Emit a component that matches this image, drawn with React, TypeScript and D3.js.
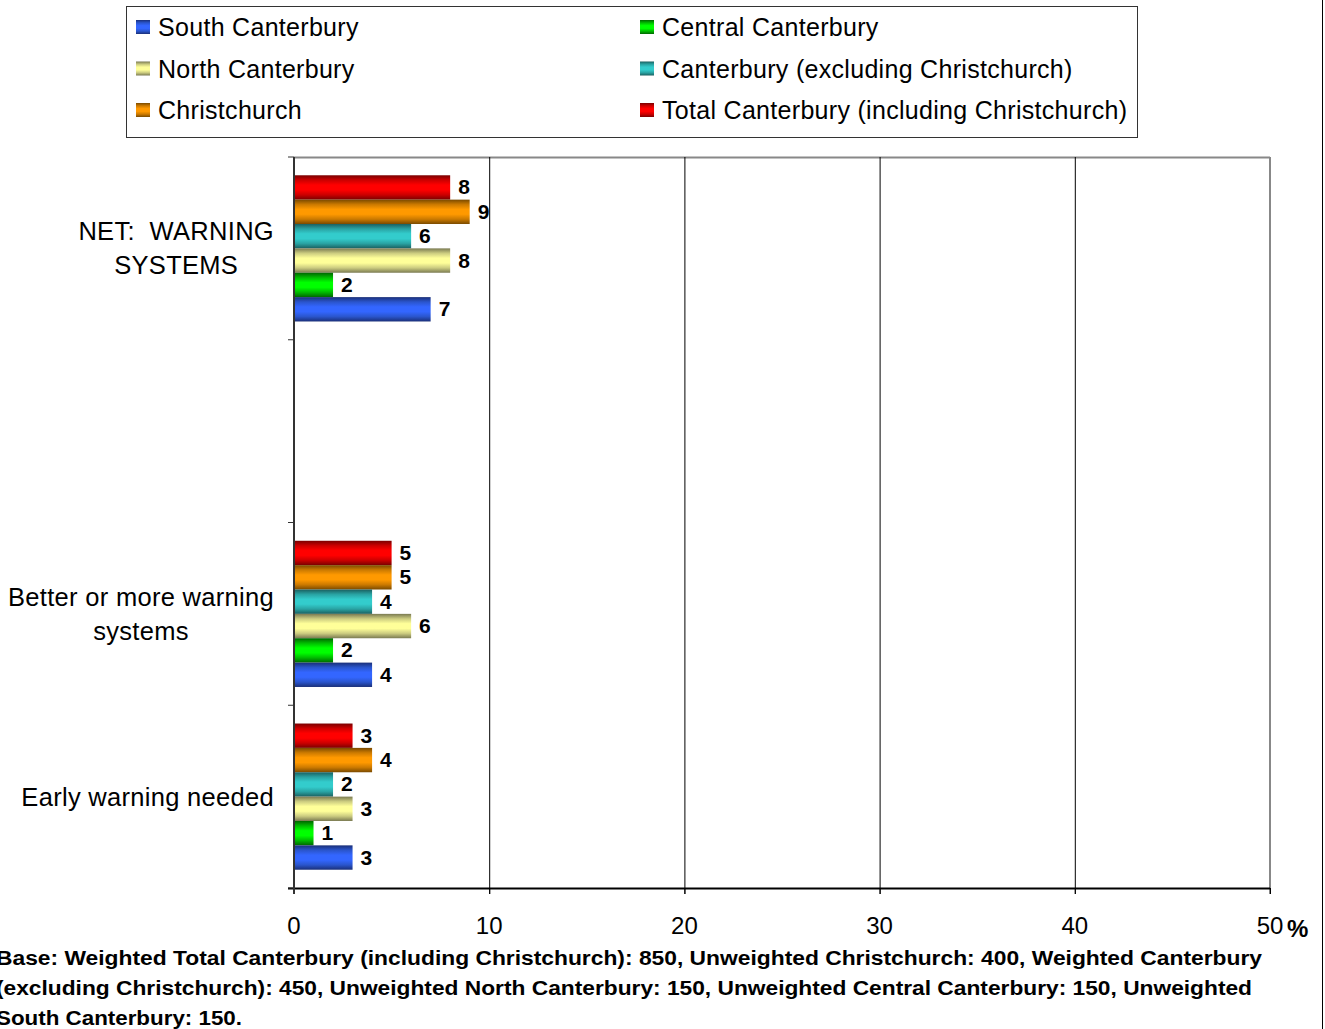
import { useEffect, useRef } from "react";
import * as d3 from "d3";

// categories top to bottom, "" is the empty slot in the original chart
const categories = ["NET:  WARNING|SYSTEMS", "", "Better or more warning|systems", "Early warning needed"];

// series drawn top to bottom within each category
const seriesNames = [
  "Total Canterbury (including Christchurch)",
  "Christchurch",
  "Canterbury (excluding Christchurch)",
  "North Canterbury",
  "Central Canterbury",
  "South Canterbury",
];

const totalCant = [8, null, 5, 3];
const christchurch = [9, null, 5, 4];
const cantExcl = [6, null, 4, 2];
const northCant = [8, null, 6, 3];
const centralCant = [2, null, 2, 1];
const southCant = [7, null, 4, 3];

const xTicks = [0, 10, 20, 30, 40, 50];

const legendOrder = [
  "South Canterbury",
  "Central Canterbury",
  "North Canterbury",
  "Canterbury (excluding Christchurch)",
  "Christchurch",
  "Total Canterbury (including Christchurch)",
];

const footnote = [
  "Base: Weighted Total Canterbury (including Christchurch): 850, Unweighted Christchurch: 400, Weighted Canterbury",
  "(excluding Christchurch): 450, Unweighted North Canterbury: 150, Unweighted Central Canterbury: 150, Unweighted",
  "South Canterbury: 150.",
];

// dark edge / mid / light middle for the banded bar fill
const palette: Record<string, [string, string, string]> = {
  "Total Canterbury (including Christchurch)": ["#7a0000", "#cc0000", "#ff0000"],
  Christchurch: ["#7a4a00", "#cc7a00", "#ff9900"],
  "Canterbury (excluding Christchurch)": ["#1a6060", "#29a3a3", "#33cccc"],
  "North Canterbury": ["#7a7a52", "#cccc80", "#ffff99"],
  "Central Canterbury": ["#006600", "#00bb00", "#00ff00"],
  "South Canterbury": ["#1a2f78", "#2a55cc", "#3366ff"],
};

const values = [totalCant, christchurch, cantExcl, northCant, centralCant, southCant];

const FONT = "'Liberation Sans', Arial, sans-serif";

export default function App() {
  const labelsRef = useRef<SVGGElement | null>(null);

  const left = 294;
  const right = 1270;
  const top = 157;
  const bottom = 888;

  const x = d3.scaleLinear().domain([0, 50]).range([left, right]);
  const y = d3
    .scaleBand<number>()
    .domain(d3.range(categories.length))
    .range([top, bottom])
    .paddingInner(0.2)
    .paddingOuter(0.1);
  const inner = d3
    .scaleBand<number>()
    .domain(d3.range(seriesNames.length))
    .range([0, y.bandwidth()]);
  const slot = (bottom - top) / categories.length;

  useEffect(() => {
    if (!labelsRef.current) return;
    // centre each multi-line label block with its right edge at 274
    d3.select(labelsRef.current)
      .selectAll<SVGGElement, unknown>("g.cat")
      .each(function () {
        const w = this.getBBox().width;
        const cy = +(this.getAttribute("data-cy") || 0);
        d3.select(this).attr("transform", `translate(${274 - w / 2},${cy})`);
      });
  }, []);

  const gradId = (name: string) => "g" + seriesNames.indexOf(name);

  return (
    <svg
      width={1325}
      height={1029}
      style={{ position: "absolute", left: 0, top: 0, background: "#fff" }}
      fontFamily={FONT}
    >
      <defs>
        {seriesNames.map((name) => {
          const [d, m, l] = palette[name];
          return (
            <linearGradient key={name} id={gradId(name)} x1="0" y1="0" x2="0" y2="1">
              <stop offset="0%" stopColor={d} />
              <stop offset="20%" stopColor={m} />
              <stop offset="40%" stopColor={l} />
              <stop offset="60%" stopColor={l} />
              <stop offset="80%" stopColor={m} />
              <stop offset="100%" stopColor={d} />
            </linearGradient>
          );
        })}
      </defs>

      {/* legend */}
      <rect x={126.5} y={6.5} width={1011} height={131} fill="#fff" stroke="#333" strokeWidth={1} />
      {legendOrder.map((name, i) => {
        const col = i % 2;
        const row = Math.floor(i / 2);
        const lx = col === 0 ? 136 : 640;
        const cy = 27 + row * 41.5;
        return (
          <g key={name}>
            <rect x={lx} y={cy - 7} width={14} height={14} fill={`url(#${gradId(name)})`} />
            <text x={lx + 22} y={cy + 9} fontSize={25} letterSpacing={0.3} fill="#000">
              {name}
            </text>
          </g>
        );
      })}

      {/* plot frame */}
      <line x1={left} x2={right} y1={top + 0.5} y2={top + 0.5} stroke="#888" strokeWidth={2} />
      <line x1={right} x2={right} y1={top} y2={bottom + 6} stroke="#888" strokeWidth={2} />

      {/* vertical gridlines */}
      {xTicks.slice(1, -1).map((t) => (
        <line key={t} x1={x(t) + 0.5} x2={x(t) + 0.5} y1={top} y2={bottom + 6} stroke="#000" strokeWidth={1} />
      ))}

      {/* bars */}
      {categories.map((_, ci) =>
        seriesNames.map((name, si) => {
          const v = values[si][ci];
          if (v == null) return null;
          const by = (y(ci) as number) + (inner(si) as number);
          const bh = inner.bandwidth();
          return (
            <g key={`${ci}-${si}`}>
              <rect x={x(0)} y={by} width={x(v) - x(0)} height={bh} fill={`url(#${gradId(name)})`} />
              <text
                x={x(v) + 8}
                y={by + bh / 2 + 7}
                fontSize={21}
                fontWeight="bold"
                fill="#000"
              >
                {v}
              </text>
            </g>
          );
        })
      )}

      {/* axes */}
      <line x1={left - 6} x2={right} y1={bottom + 0.5} y2={bottom + 0.5} stroke="#000" strokeWidth={2} />
      {xTicks.map((t) => (
        <line key={t} x1={x(t) + 0.5} x2={x(t) + 0.5} y1={bottom} y2={bottom + 6} stroke="#000" strokeWidth={1} />
      ))}
      <line x1={left} x2={left} y1={top} y2={bottom + 6} stroke="#333" strokeWidth={2} />
      {d3.range(categories.length + 1).map((i) => (
        <line key={i} x1={left - 6} x2={left} y1={top + i * slot} y2={top + i * slot} stroke="#333" strokeWidth={1} />
      ))}

      {/* x tick labels */}
      {xTicks.map((t) => (
        <text key={t} x={x(t)} y={934} fontSize={24} textAnchor="middle" fill="#000">
          {t}
        </text>
      ))}
      <text x={1287} y={937} fontSize={24} fontWeight="bold" fill="#000">
        %
      </text>

      {/* category labels */}
      <g ref={labelsRef}>
        {categories.map((c, ci) => {
          if (!c) return null;
          const lines = c.split("|");
          const cy = (y(ci) as number) + y.bandwidth() / 2;
          return (
            <g key={ci} className="cat" data-cy={cy} transform={`translate(150,${cy})`}>
              {lines.map((ln, li) => (
                <text
                  key={li}
                  x={0}
                  y={(li - (lines.length - 1) / 2) * 34 + 9}
                  fontSize={25.5}
                  letterSpacing={0.3}
                  textAnchor="middle"
                  fill="#000"
                  style={{ whiteSpace: "pre" }}
                >
                  {ln}
                </text>
              ))}
            </g>
          );
        })}
      </g>

      {/* footnote */}
      {footnote.map((ln, i) => (
        <text
          key={i}
          x={-4}
          y={965 + i * 30}
          fontSize={20}
          fontWeight="bold"
          fill="#000"
          textLength={i === 0 ? 1266 : i === 1 ? 1256 : 246}
          lengthAdjust="spacingAndGlyphs"
        >
          {ln}
        </text>
      ))}

      {/* right page edge */}
      <line x1={1322.5} x2={1322.5} y1={0} y2={1029} stroke="#000" strokeWidth={1} />
    </svg>
  );
}
